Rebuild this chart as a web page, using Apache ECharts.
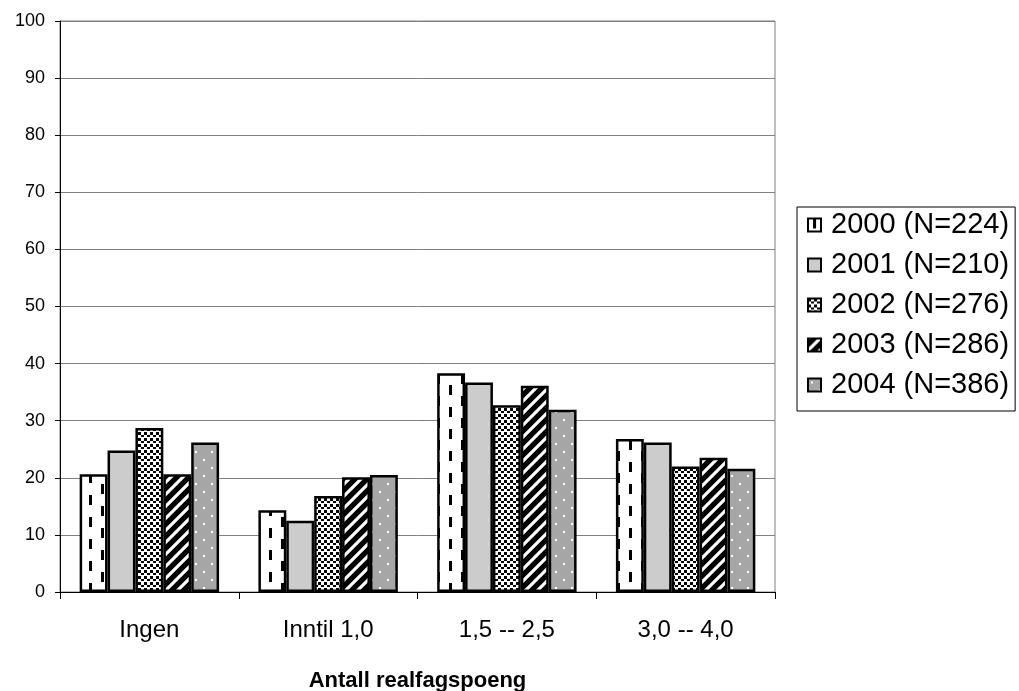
<!DOCTYPE html>
<html>
<head>
<meta charset="utf-8">
<script src="https://cdn.jsdelivr.net/npm/echarts@6/dist/echarts.min.js"></script>
<style>
html,body{margin:0;padding:0;background:#fff;}
#c{width:1019px;height:691px;}
</style>
</head>
<body>
<div id="c"></div>
<script>
const categories = ['Ingen', 'Inntil 1,0', '1,5 -- 2,5', '3,0 -- 4,0'];
const seriesNames = ['2000 (N=224)', '2001 (N=210)', '2002 (N=276)', '2003 (N=286)', '2004 (N=386)'];
const s2000 = [20.6, 14.3, 38.3, 26.8];
const s2001 = [24.8, 12.5, 36.7, 26.2];
const s2002 = [28.7, 16.8, 32.7, 22.0];
const s2003 = [20.6, 20.1, 36.1, 23.5];
const s2004 = [26.2, 20.5, 31.9, 21.6];
const yTicks = [0, 10, 20, 30, 40, 50, 60, 70, 80, 90, 100];

function tile(w, h, draw) {
  const c = document.createElement('canvas');
  c.width = w; c.height = h;
  const g = c.getContext('2d');
  draw(g, w, h);
  return { image: c, repeat: 'repeat' };
}
// 2000: white with vertical dashes
const p2000 = tile(24, 22, (g, w, h) => {
  g.fillStyle = '#fff'; g.fillRect(0, 0, w, h);
  g.fillStyle = '#000';
  g.fillRect(5, 0, 3, 10);
  g.fillRect(17, 11, 3, 10);
});
// 2001: light grey
const p2001 = '#cccccc';
// 2002: dotted checker
const p2002 = tile(6, 6, (g, w, h) => {
  g.fillStyle = '#fff'; g.fillRect(0, 0, w, h);
  g.fillStyle = '#000';
  g.fillRect(0, 0, 3, 3);
  g.fillRect(3, 3, 3, 2);
});
// 2003: black with white diagonal stripes
const p2003 = tile(12, 12, (g, w, h) => {
  g.fillStyle = '#000'; g.fillRect(0, 0, w, h);
  g.strokeStyle = '#fff'; g.lineWidth = 3.2;
  g.beginPath();
  g.moveTo(-3, 15); g.lineTo(15, -3);
  g.moveTo(-9, 9); g.lineTo(9, -9);
  g.moveTo(3, 21); g.lineTo(21, 3);
  g.stroke();
});
// 2004: dark grey with white dots
const p2004 = tile(16, 16, (g, w, h) => {
  g.fillStyle = '#a6a6a6'; g.fillRect(0, 0, w, h);
  g.fillStyle = '#fff';
  g.fillRect(3, 3, 2, 2);
  g.fillRect(11, 11, 2, 2);
});

const fills = [p2000, p2001, p2002, p2003, p2004];
const values = [s2000, s2001, s2002, s2003, s2004];
const FF = '"Liberation Sans", Arial, sans-serif';

const chart = echarts.init(document.getElementById('c'), null, { renderer: 'canvas' });
chart.setOption({
  animation: false,
  backgroundColor: '#fff',
  grid: {
    left: 60, right: 244, top: 21, bottom: 99,
    outerBoundsMode: 'none', containLabel: false,
    show: true, borderColor: '#808080', borderWidth: 1, backgroundColor: 'transparent'
  },
  legend: {
    orient: 'vertical',
    left: 797, top: 207,
    borderColor: '#000', borderWidth: 1,
    padding: [3, 6, 11, 10],
    itemWidth: 13, itemHeight: 13, itemGap: 10,
    icon: 'rect',
    data: seriesNames,
    textStyle: { fontFamily: FF, fontSize: 29, color: '#000', lineHeight: 30, padding: [0, 0, 0, 5] }
  },
  xAxis: {
    type: 'category',
    data: categories,
    axisLine: { lineStyle: { color: '#000', width: 1 } },
    axisTick: { show: true, length: 7, lineStyle: { color: '#000' } },
    axisLabel: { fontFamily: FF, fontSize: 24, color: '#000', margin: 26 },
    name: 'Antall realfagspoeng',
    nameLocation: 'middle',
    nameGap: 78,
    nameTextStyle: { fontFamily: FF, fontSize: 22, fontWeight: 'bold', color: '#000' }
  },
  yAxis: {
    type: 'value',
    min: yTicks[0], max: yTicks[yTicks.length - 1], interval: 10,
    axisLine: { show: true, lineStyle: { color: '#000', width: 1 } },
    axisTick: { show: true, length: 5, lineStyle: { color: '#000' } },
    axisLabel: { fontFamily: FF, fontSize: 18, color: '#000', margin: 15 },
    splitLine: { show: true, lineStyle: { color: '#808080', width: 1 } }
  },
  series: seriesNames.map((n, i) => ({
    name: n,
    type: 'bar',
    data: values[i],
    barGap: 0,
    barCategoryGap: '22%',
    itemStyle: { color: fills[i], borderColor: '#000', borderWidth: 2.5 }
  }))
});
</script>
</body>
</html>
